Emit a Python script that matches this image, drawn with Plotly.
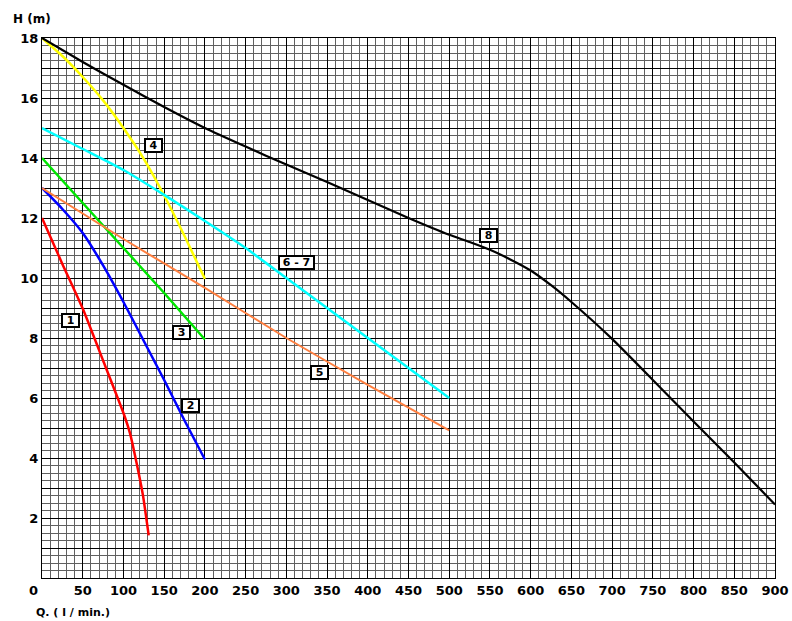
import plotly.graph_objects as go

# ---- data ----
q1 = [0, 25, 50, 75, 100, 108, 116, 124, 131]
h1 = [12.0, 10.47, 8.98, 7.25, 5.5, 4.83, 3.85, 2.75, 1.42]

q2 = [0, 25, 50, 75, 100, 125, 150, 175, 200]
h2 = [13.0, 12.3, 11.5, 10.42, 9.2, 7.9, 6.6, 5.25, 3.95]

q3 = [0, 50, 100, 150, 200]
h3 = [14.0, 12.5, 11.0, 9.5, 7.95]

q4 = [0, 25, 50, 75, 100, 125, 150, 175, 200]
h4 = [18.0, 17.4, 16.7, 15.92, 15.0, 13.97, 12.75, 11.4, 9.97]

q5 = [0, 100, 200, 300, 400, 500]
h5 = [13.0, 11.3, 9.67, 8.0, 6.44, 4.92]

q67 = [0, 50, 100, 150, 200, 250, 300, 350, 400, 450, 500]
h67 = [15.0, 14.3, 13.6, 12.77, 11.9, 11.0, 10.0, 9.0, 8.0, 7.0, 6.0]

q8 = [0, 50, 100, 150, 200, 250, 300, 350, 400, 450, 500, 525, 550, 575, 600, 625, 650, 700, 750, 800, 850, 900]
h8 = [18.0, 17.2, 16.44, 15.7, 15.0, 14.38, 13.78, 13.2, 12.6, 12.0, 11.44, 11.2, 10.94, 10.62, 10.25, 9.76, 9.2, 7.97, 6.6, 5.22, 3.85, 2.45]

x_ticks = list(range(0, 901, 50))
x_tick_labels = [str(v) for v in x_ticks]
y_ticks = list(range(0, 19))
y_tick_labels = [str(v) if (v % 2 == 0 and v > 0) else "" for v in y_ticks]

curve_names = ["1", "2", "3", "4", "5", "6 - 7", "8"]
label_q = [35.6, 181.8, 170.8, 136.4, 341, 312, 548]
label_h = [8.58, 5.75, 8.18, 14.41, 6.84, 10.52, 11.41]
label_w = [15, 15, 15, 15, 15, 33, 15]

# ---- figure ----
series = [
    (q1, h1, "#FF0000", 2.5),
    (q2, h2, "#0000FF", 2.5),
    (q3, h3, "#00E600", 2.5),
    (q4, h4, "#FFFF00", 2.5),
    (q5, h5, "#FF7F3F", 2.0),
    (q67, h67, "#00FFFF", 2.5),
    (q8, h8, "#000000", 2.2),
]

fig = go.Figure()
for (qx, hy, col, w), name in zip(series, curve_names):
    fig.add_trace(go.Scatter(x=qx, y=hy, mode="lines", name=name,
                             line=dict(color=col, width=w, shape="spline", smoothing=0.5),
                             hoverinfo="x+y"))

FONT = "DejaVu Sans"
for name, qx, hy, bw in zip(curve_names, label_q, label_h, label_w):
    fig.add_annotation(x=qx, y=hy, text="<b>%s</b>" % name, showarrow=False,
                       font=dict(family=FONT, size=11, color="black"),
                       bgcolor="white", bordercolor="black", borderwidth=2,
                       borderpad=0, width=bw, height=11)

fig.add_annotation(xref="paper", yref="paper", x=0, y=1, xanchor="left", yanchor="bottom",
                   xshift=-31, yshift=10, text="<b>H (m)</b>", showarrow=False,
                   font=dict(family=FONT, size=12, color="black"))
fig.add_annotation(xref="paper", yref="paper", x=0, y=0, xanchor="left", yanchor="top",
                   xshift=-8, yshift=-26, text="<b>Q. ( l / min.)</b>", showarrow=False,
                   font=dict(family=FONT, size=11, color="black"))
fig.add_annotation(xref="paper", yref="paper", x=0, y=0, xanchor="center", yanchor="top",
                   xshift=-9, yshift=-3, text="<b>0</b>", showarrow=False,
                   font=dict(family=FONT, size=13, color="black"))

fig.update_layout(
    width=792, height=621,
    margin=dict(l=42, r=17, t=38, b=43),
    paper_bgcolor="white", plot_bgcolor="white",
    showlegend=False,
    xaxis=dict(range=[0, 900], tickvals=x_ticks, automargin=False,
               ticktext=[""] + x_tick_labels[1:],
               showgrid=True, gridcolor="#000000", gridwidth=1.3,
               minor=dict(dtick=10, showgrid=True, gridcolor="#606060", gridwidth=1),
               zeroline=False, showline=True, linecolor="black", linewidth=1.3, mirror=True,
               tickfont=dict(family=FONT, size=13, color="black", weight="bold"),
               ticks="", fixedrange=True),
    yaxis=dict(range=[0, 18], tickvals=y_ticks, ticktext=y_tick_labels, automargin=False,
               showgrid=True, gridcolor="#000000", gridwidth=1.3,
               minor=dict(dtick=0.25, showgrid=True, gridcolor="#606060", gridwidth=1),
               zeroline=False, showline=True, linecolor="black", linewidth=1.3, mirror=True,
               tickfont=dict(family=FONT, size=13, color="black", weight="bold"),
               ticks="", fixedrange=True),
)

# remove the default 8px body margin so the 792x621 figure fills the window exactly
fig.write_html("out.html",
               config={"displayModeBar": False},
               post_script="document.body.style.margin='0px';document.body.style.overflow='hidden';")
